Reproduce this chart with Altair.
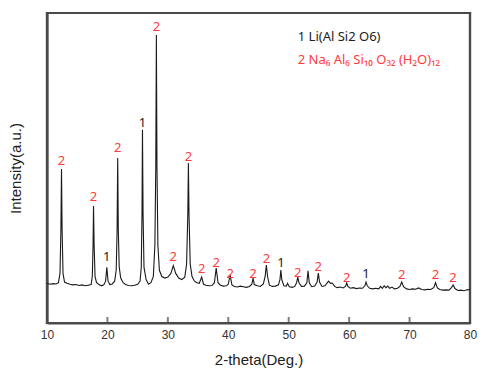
import altair as alt
import pandas as pd

# XRD pattern (2-theta in degrees, intensity in arbitrary units)
two_theta = [10.0, 10.5, 11.0, 11.5, 11.9, 12.15, 12.3, 12.4, 12.5, 12.65, 12.9, 13.3, 13.8, 14.3, 14.8,
             15.3, 15.8, 16.3, 16.8, 17.3, 17.5, 17.62, 17.7, 17.8, 17.95, 18.2, 18.6, 19.0, 19.4, 19.7,
             19.9, 20.1, 20.4, 20.8, 21.2, 21.45, 21.6, 21.7, 21.8, 21.95, 22.2, 22.6, 23.0, 23.5, 24.0,
             24.5, 25.0, 25.4, 25.6, 25.72, 25.8, 25.9, 26.05, 26.4, 26.8, 27.2, 27.6, 27.85, 28.0, 28.1,
             28.2, 28.35, 28.6, 29.0, 29.5, 30.0, 30.5, 30.9, 31.3, 31.8, 32.3, 32.8, 33.1, 33.3, 33.4,
             33.5, 33.7, 34.0, 34.4, 34.8, 35.2, 35.6, 35.9, 36.3, 36.8, 37.3, 37.7, 38.0, 38.3, 38.7,
             39.2, 39.7, 40.0, 40.3, 40.6, 41.0, 41.5, 42.0, 42.5, 43.0, 43.5, 43.9, 44.1, 44.3, 44.8,
             45.3, 45.8, 46.1, 46.3, 46.5, 46.8, 47.3, 47.8, 48.3, 48.55, 48.7, 48.85, 49.2, 49.6, 49.8,
             50.1, 50.6, 51.0, 51.3, 51.5, 51.7, 52.1, 52.6, 53.0, 53.2, 53.4, 53.8, 54.3, 54.7, 54.9,
             55.1, 55.5, 56.0, 56.4, 56.6, 56.9, 57.2, 57.6, 58.0, 58.5, 59.0, 59.4, 59.6, 59.8, 60.2,
             60.7, 61.2, 61.7, 62.2, 62.6, 62.8, 63.0, 63.4, 63.9, 64.4, 64.9, 65.2, 65.5, 65.8, 66.1,
             66.4, 66.7, 67.1, 67.5, 68.0, 68.4, 68.7, 69.0, 69.5, 70.0, 70.5, 71.0, 71.5, 72.0, 72.5,
             73.0, 73.5, 74.0, 74.3, 74.6, 75.0, 75.5, 76.0, 76.5, 76.9, 77.2, 77.5, 78.0, 78.5, 79.0,
             79.5, 80.0]
intensity = [12.8, 12.5, 12.7, 12.6, 13.0, 16.0, 30.0, 49.7, 30.0, 16.0, 13.2, 12.8, 12.5, 12.3, 12.4,
             12.1, 12.3, 12.0, 12.2, 12.4, 15.0, 25.0, 37.7, 25.0, 15.0, 13.0, 12.4, 12.0, 12.3, 13.5,
             18.0, 13.5, 12.4, 12.6, 13.5, 17.0, 30.0, 53.2, 30.0, 18.0, 14.5, 13.0, 12.4, 12.1, 12.0,
             12.2, 12.5, 13.5, 18.0, 35.0, 62.3, 35.0, 18.0, 14.0, 12.5, 13.0, 15.0, 25.0, 50.0, 92.9,
             50.0, 25.0, 17.0, 15.0, 14.5, 14.8, 16.0, 18.5, 16.0, 14.5, 14.0, 14.8, 19.0, 35.0, 51.6,
             35.0, 19.0, 15.0, 13.5, 13.0, 12.8, 14.8, 12.5, 12.2, 12.0, 12.1, 13.0, 17.7, 13.0, 12.2,
             11.9, 12.0, 12.5, 15.5, 12.3, 11.8, 11.6, 11.9, 11.7, 11.5, 11.8, 12.5, 14.5, 12.4, 12.0,
             11.8, 12.6, 15.0, 18.7, 15.0, 12.2, 11.8, 11.9, 12.3, 14.0, 17.1, 14.0, 12.0, 11.9, 12.8,
             11.7, 11.5, 11.8, 13.0, 14.8, 13.0, 11.8, 11.9, 13.0, 16.8, 13.0, 11.7, 11.9, 13.2, 16.1,
             13.2, 11.8, 12.0, 13.0, 13.5, 12.8, 12.9, 11.8, 11.4, 11.6, 11.3, 11.8, 12.9, 11.8, 11.2,
             11.4, 11.1, 11.3, 11.2, 12.0, 13.2, 12.0, 11.2, 11.0, 11.2, 11.0, 11.8, 11.2, 12.0, 11.4,
             11.9, 11.2, 11.6, 11.0, 11.2, 11.8, 13.2, 11.7, 11.0, 10.8, 11.0, 10.9, 11.3, 10.8, 10.7,
             10.9, 10.8, 11.4, 13.0, 11.3, 10.8, 10.6, 10.7, 10.6, 11.3, 12.3, 11.1, 10.5, 10.6, 10.4,
             10.7, 10.8]

# Peak markers
label_x = [12.4, 17.7, 19.9, 21.7, 25.8, 28.1, 30.9, 33.4, 35.6, 38.0, 40.3, 44.1, 46.3, 48.7,
           51.5, 54.9, 59.6, 62.8, 68.7, 74.3, 77.2]
label_y = [52.3, 40.6, 21.3, 56.5, 64.5, 95.5, 21.3, 53.5, 17.4, 19.4, 15.8, 15.8, 20.6, 19.4,
           16.1, 18.1, 14.5, 15.8, 15.5, 15.5, 14.5]
label_text = ["2", "2", "1", "2", "1", "2", "2", "2", "2", "2", "2", "2", "2", "1",
              "2", "2", "2", "1", "2", "2", "2"]

# Tick positions and legend lines
tick_values = [20, 30, 40, 50, 60, 70]
axis_labels = [10, 20, 30, 40, 50, 60, 70, 80]
legend_lines = ["1 Li(Al Si2 O6)", "2 Na\u2086 Al\u2086 Si\u2081\u2080 O\u2083\u2082 (H\u2082O)\u2081\u2082"]
legend_y = [92.3, 84.8]
legend_x = [51.5, 51.5]

# plot-area outline: four edges, each a two-point segment (data units)
edge_id = ["top", "top", "right", "right", "bottom", "bottom", "left", "left"]
edge_x = [10, 80, 80, 80, 10, 80, 10, 10]
edge_y = [100, 100, 0, 100, 0, 0, 0, 100]

W, H = 423, 310
FONT = "Noto Sans"
FRAME = "#4a4a4a"

df_xrd = pd.DataFrame({"x": two_theta, "y": intensity})
df_lab = pd.DataFrame({"x": label_x, "y": label_y, "t": label_text})
df_ticks = pd.DataFrame({"x": tick_values})
df_leg = pd.DataFrame({"x": legend_x, "y": legend_y, "t": legend_lines,
                       "c": ["1", "2"]})
df_frame = pd.DataFrame({"x": edge_x, "y": edge_y, "e": edge_id})

xs = alt.Scale(domain=[10, 80], nice=False)
ys = alt.Scale(domain=[0, 100], nice=False)
cs = alt.Scale(domain=["1", "2"], range=["#222222", "#ff3b3b"])

frame = alt.Chart(df_frame).mark_line(color=FRAME, strokeWidth=2.2, strokeCap="square").encode(
    x=alt.X("x:Q", scale=xs,
            axis=alt.Axis(values=axis_labels, ticks=False, domain=True, domainColor=FRAME,
                          domainWidth=2.2, grid=False, labelFlush=False,
                          labelFontSize=12, labelColor="#333333", labelFont="Liberation Sans",
                          labelPadding=6, title="2-theta(Deg.)", titleFontSize=15,
                          titleFontWeight="normal", titleFont="Liberation Sans",
                          titleColor="#222222", titlePadding=12)),
    y=alt.Y("y:Q", scale=ys,
            axis=alt.Axis(labels=False, ticks=False, domain=True, domainColor=FRAME,
                          domainWidth=2.2, grid=False,
                          title="Intensity(a.u.)", titleFontSize=15, titleFontWeight="normal",
                          titleFont="Liberation Sans", titleColor="#222222", titlePadding=24)),
    detail="e:N",
)

line = alt.Chart(df_xrd).mark_line(color="#1a1a1a", strokeWidth=1.1).encode(
    x=alt.X("x:Q", scale=xs),
    y=alt.Y("y:Q", scale=ys),
)

ticks = alt.Chart(df_ticks).mark_tick(color=FRAME, thickness=2, size=6, orient="vertical").encode(
    x=alt.X("x:Q", scale=xs),
    y=alt.value(H - 3),
)

labels = alt.Chart(df_lab).mark_text(fontSize=13, font=FONT, baseline="middle").encode(
    x=alt.X("x:Q", scale=xs),
    y=alt.Y("y:Q", scale=ys),
    text="t:N",
    color=alt.Color("t:N", scale=cs, legend=None),
)

legend = alt.Chart(df_leg).mark_text(fontSize=13, font=FONT, align="left", baseline="middle").encode(
    x=alt.X("x:Q", scale=xs),
    y=alt.Y("y:Q", scale=ys),
    text="t:N",
    color=alt.Color("c:N", scale=cs, legend=None),
)

chart = alt.layer(frame, line, ticks, labels, legend).properties(
    width=W, height=H,
    background="white",
    autosize=alt.AutoSizeParams(type="none"),
    padding={"left": 39, "top": 5, "right": 7, "bottom": 45},
).configure_view(stroke=FRAME, strokeWidth=2.2)

chart.save("out.html", embed_options={"renderer": "svg", "actions": False})
